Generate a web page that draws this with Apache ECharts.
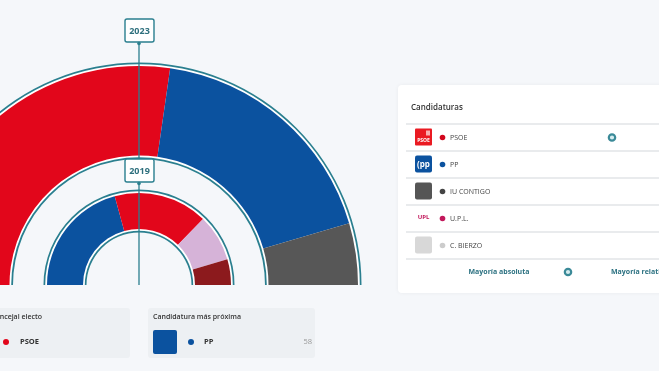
<!DOCTYPE html>
<html><head><meta charset="utf-8">
<script src="https://cdn.jsdelivr.net/npm/echarts@6/dist/echarts.min.js"></script>
<style>html,body{margin:0;padding:0;background:#f5f7fa;}#c{width:659px;height:371px;}</style>
</head><body><div id="c"></div>
<script>
// 2023 (outer ring) — seats
const parties2023 = ['PSOE', 'PP', 'IU CONTIGO'];
const seats2023 = [6, 4, 1];
const colors2023 = ['#e2061b', '#0b529f', '#575757'];
// 2019 (inner ring) — shares
const parties2019 = ['PP', 'PSOE', 'Candidatura C', 'Candidatura D'];
const values2019 = [41.5, 33, 16.5, 9];
const colors2019 = ['#0b529f', '#e2061b', '#d6b3d8', '#8c1a1d'];
// legend rows
const legendNames = ['PSOE', 'PP', 'IU CONTIGO', 'U.P.L.', 'C. BIERZO'];
const legendDots = ['#d2071c', '#0b529f', '#444444', '#c2185b', '#cccccc'];
const yearLabels = ['2023', '2019'];

const TEAL = '#2a7f8f';
const FONT = 'Open Sans, sans-serif';
const C = [139, 285];

function ring(name, r0, r1, color, z) {
  return { type: 'pie', name, center: C, radius: [r0, r1], startAngle: 180, endAngle: 360,
    silent: true, z, label: { show: false }, labelLine: { show: false },
    itemStyle: { color }, data: [{ value: 1 }] };
}
function dataRing(name, r0, r1, names, vals, cols, z) {
  return { type: 'pie', name, center: C, radius: [r0, r1], startAngle: 180, endAngle: 360,
    silent: true, z, label: { show: false }, labelLine: { show: false }, sort: null,
    data: names.map((n, i) => ({ name: n, value: vals[i], itemStyle: { color: cols[i] } })) };
}

const g = [];
// vertical line and year boxes
g.push({ type: 'line', z: 100, shape: { x1: 139, y1: 42, x2: 139, y2: 285 }, style: { stroke: TEAL, lineWidth: 1.3 } });
[[19, yearLabels[0]], [159, yearLabels[1]]].forEach(([y, t]) => {
  g.push({ type: 'rect', z: 101, shape: { x: 125, y: y, width: 29, height: 23, r: 2 }, style: { fill: '#fff', stroke: TEAL, lineWidth: 1.4 } });
  g.push({ type: 'text', z: 102, style: { x: 139.5, y: y + 12, text: t, fill: '#2d6f7d', font: 'bold 9px ' + FONT, align: 'center', verticalAlign: 'middle' } });
  g.push({ type: 'circle', z: 102, shape: { cx: 139, cy: y + 24.5, r: 1.8 }, style: { fill: TEAL } });
});

// legend panel
g.push({ type: 'rect', z: 10, shape: { x: 398, y: 85, width: 270, height: 208, r: 4 }, style: { fill: '#ffffff', shadowBlur: 4, shadowColor: 'rgba(0,0,0,0.05)' } });
g.push({ type: 'text', z: 11, style: { x: 411, y: 108, text: 'Candidaturas', fill: '#333', font: '600 8px ' + FONT, verticalAlign: 'middle' } });
[124, 151, 178, 205, 232, 259].forEach(y => {
  g.push({ type: 'line', z: 11, shape: { x1: 406, y1: y, x2: 659, y2: y }, style: { stroke: '#d3d7db', lineWidth: 1 } });
});
legendNames.forEach((n, i) => {
  const y = 137.5 + i * 27;
  g.push({ type: 'circle', z: 12, shape: { cx: 442.5, cy: y, r: 2.8 }, style: { fill: legendDots[i] } });
  g.push({ type: 'text', z: 12, style: { x: 450, y: y, text: n, fill: '#444', font: '7px ' + FONT, verticalAlign: 'middle' } });
});
// logos
g.push({ type: 'rect', z: 12, shape: { x: 415, y: 128.5, width: 17, height: 17, r: 1 }, style: { fill: '#ea1a22' } });
g.push({ type: 'text', z: 13, style: { x: 423.5, y: 141, text: 'PSOE', fill: '#fff', font: 'bold 5px ' + FONT, align: 'center', verticalAlign: 'middle' } });
g.push({ type: 'rect', z: 13, shape: { x: 426, y: 130.5, width: 4, height: 5 }, style: { fill: '#f8b0b0' } });
g.push({ type: 'rect', z: 12, shape: { x: 415, y: 155.5, width: 17, height: 17, r: 2 }, style: { fill: '#0b529f' } });
g.push({ type: 'text', z: 13, style: { x: 423.5, y: 164.5, text: '(pp', fill: '#fff', font: 'bold 8px ' + FONT, align: 'center', verticalAlign: 'middle' } });
g.push({ type: 'rect', z: 12, shape: { x: 415, y: 182.5, width: 17, height: 17, r: 2 }, style: { fill: '#555555' } });
g.push({ type: 'text', z: 12, style: { x: 423.5, y: 217.5, text: 'UPL', fill: '#c2185b', font: 'bold 6px ' + FONT, align: 'center', verticalAlign: 'middle' } });
g.push({ type: 'rect', z: 12, shape: { x: 415, y: 236.5, width: 17, height: 17, r: 2 }, style: { fill: '#d8d8d8' } });
// ring icons
[[612, 137.5], [568, 272]].forEach(([x, y]) => {
  g.push({ type: 'circle', z: 12, shape: { cx: x, cy: y, r: 3.2 }, style: { fill: '#d6ecef', stroke: '#3b8a98', lineWidth: 2.2 } });
});
g.push({ type: 'text', z: 12, style: { x: 499, y: 272, text: 'Mayoría absoluta', fill: '#2d7282', font: 'bold 7px ' + FONT, align: 'center', verticalAlign: 'middle' } });
g.push({ type: 'text', z: 12, style: { x: 611, y: 272, text: 'Mayoría relativa', fill: '#2d7282', font: 'bold 7px ' + FONT, verticalAlign: 'middle' } });

// bottom cards
g.push({ type: 'rect', z: 10, shape: { x: -10, y: 308, width: 140, height: 50, r: 3 }, style: { fill: '#edf0f3' } });
g.push({ type: 'text', z: 11, style: { x: -9, y: 317, text: 'Concejal electo', fill: '#333', font: '600 7px ' + FONT, verticalAlign: 'middle' } });
g.push({ type: 'circle', z: 11, shape: { cx: 6, cy: 342, r: 3 }, style: { fill: '#e2061b' } });
g.push({ type: 'text', z: 11, style: { x: 20, y: 342, text: 'PSOE', fill: '#333', font: 'bold 7.5px ' + FONT, verticalAlign: 'middle' } });

g.push({ type: 'rect', z: 10, shape: { x: 148, y: 308, width: 167, height: 50, r: 3 }, style: { fill: '#edf0f3' } });
g.push({ type: 'text', z: 11, style: { x: 153, y: 317, text: 'Candidatura más próxima', fill: '#333', font: '600 7px ' + FONT, verticalAlign: 'middle' } });
g.push({ type: 'rect', z: 11, shape: { x: 153, y: 330, width: 24, height: 24, r: 2 }, style: { fill: '#0b529f' } });
g.push({ type: 'circle', z: 11, shape: { cx: 191, cy: 342, r: 3 }, style: { fill: '#0b529f' } });
g.push({ type: 'text', z: 11, style: { x: 204, y: 342, text: 'PP', fill: '#333', font: 'bold 7.5px ' + FONT, verticalAlign: 'middle' } });
g.push({ type: 'text', z: 11, style: { x: 312, y: 342, text: '58', fill: '#999', font: '7.5px ' + FONT, align: 'right', verticalAlign: 'middle' } });

const chart = echarts.init(document.getElementById('c'), null, { renderer: 'canvas' });
chart.setOption({
  backgroundColor: '#f5f7fa',
  animation: false,
  series: [
    ring('outerTeal', 126, 222.5, TEAL, 1),
    ring('outerWhite', 127.8, 220.8, '#ffffff', 2),
    dataRing('2023', 129.5, 219, parties2023, seats2023, colors2023, 3),
    ring('innerTeal', 52.5, 95.5, TEAL, 1),
    ring('innerWhite', 54.2, 93.8, '#ffffff', 2),
    dataRing('2019', 56, 92, parties2019, values2019, colors2019, 3)
  ],
  graphic: g
});
</script></body></html>
